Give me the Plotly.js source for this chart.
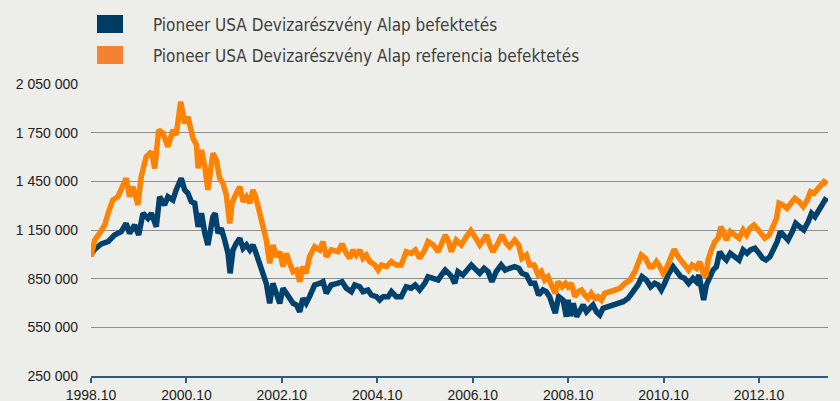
<!DOCTYPE html>
<html>
<head>
<meta charset="utf-8">
<script src="https://cdn.plot.ly/plotly-3.0.1.min.js"></script>
<style>
html,body{margin:0;padding:0;background:#EDEDE9;}
#chart{width:840px;height:401px;}
</style>
</head>
<body>
<div id="chart"></div>
<script>
var seriesNames = ["Pioneer USA Devizarészvény Alap befektetés", "Pioneer USA Devizarészvény Alap referencia befektetés"];

var blueDates = ["1998-10-01","1998-10-29","1998-12-19","1999-02-09","1999-03-30","1999-05-20","1999-06-27","1999-07-23","1999-08-31","1999-10-01","1999-11-03","1999-12-11","2000-01-06","2000-02-13","2000-03-09","2000-04-16","2000-05-12","2000-06-19","2000-07-14","2000-08-22","2000-09-17","2000-10-12","2000-11-07","2000-12-03","2000-12-29","2001-01-24","2001-02-18","2001-03-14","2001-04-21","2001-05-09","2001-05-30","2001-06-24","2001-07-20","2001-08-15","2001-08-31","2001-09-22","2001-10-17","2001-11-13","2001-12-08","2002-01-03","2002-01-29","2002-02-22","2002-03-18","2002-04-14","2002-05-09","2002-06-04","2002-06-30","2002-07-25","2002-08-20","2002-09-15","2002-10-10","2002-11-05","2002-11-30","2002-12-26","2003-01-21","2003-02-15","2003-03-11","2003-04-05","2003-05-01","2003-06-09","2003-07-17","2003-08-12","2003-09-06","2003-10-14","2003-11-30","2004-01-05","2004-02-07","2004-03-16","2004-04-11","2004-05-19","2004-06-13","2004-07-21","2004-08-16","2004-09-23","2004-10-19","2004-11-14","2004-12-22","2005-01-17","2005-02-23","2005-04-02","2005-05-10","2005-06-17","2005-07-18","2005-08-21","2005-09-29","2005-10-24","2005-12-02","2006-01-10","2006-02-04","2006-03-05","2006-03-31","2006-04-25","2006-05-16","2006-06-10","2006-07-18","2006-08-26","2006-09-21","2006-10-29","2006-11-24","2006-12-27","2007-01-27","2007-02-25","2007-03-30","2007-05-07","2007-06-07","2007-07-10","2007-08-18","2007-09-18","2007-10-13","2007-11-16","2007-12-19","2008-01-19","2008-02-18","2008-03-22","2008-04-16","2008-05-12","2008-06-07","2008-06-24","2008-07-20","2008-08-23","2008-09-17","2008-10-01","2008-10-16","2008-11-09","2008-12-04","2008-12-30","2009-01-24","2009-02-18","2009-03-15","2009-04-09","2009-05-05","2009-05-31","2009-06-25","2009-08-03","2009-09-10","2009-10-18","2009-11-26","2010-01-03","2010-02-11","2010-03-19","2010-04-19","2010-05-22","2010-06-24","2010-07-25","2010-08-20","2010-09-14","2010-10-10","2010-11-05","2010-12-13","2011-01-08","2011-02-10","2011-03-11","2011-04-11","2011-05-14","2011-06-09","2011-06-29","2011-07-16","2011-08-04","2011-08-25","2011-09-20","2011-10-15","2011-11-10","2011-12-05","2011-12-31","2012-01-25","2012-02-24","2012-03-30","2012-05-01","2012-06-01","2012-07-01","2012-07-27","2012-08-31","2012-10-02","2012-10-28","2012-11-23","2012-12-23","2013-01-24","2013-02-17","2013-03-13","2013-04-08","2013-05-11","2013-06-13","2013-07-09","2013-08-09","2013-09-09","2013-10-12","2013-11-07","2013-12-03","2013-12-28","2014-01-23","2014-02-18","2014-03-08"];
var blueValues = [1000000,1031000,1064000,1078000,1119000,1140000,1191000,1130000,1181000,1119000,1253000,1222000,1253000,1170000,1355000,1304000,1355000,1335000,1397000,1469000,1397000,1376000,1324000,1315000,1170000,1253000,1130000,1058000,1232000,1253000,1130000,1160000,1088000,1006000,883000,1027000,1068000,1099000,1037000,1058000,1027000,1058000,1006000,945000,883000,821000,698000,821000,760000,698000,791000,760000,739000,698000,688000,646000,729000,698000,739000,811000,821000,831000,760000,811000,821000,831000,791000,770000,811000,800000,770000,780000,749000,739000,718000,739000,739000,770000,739000,739000,800000,791000,811000,780000,821000,862000,852000,842000,873000,903000,883000,860000,821000,893000,873000,914000,934000,903000,883000,914000,893000,831000,893000,934000,903000,914000,924000,914000,883000,873000,821000,821000,749000,780000,770000,739000,667000,637000,739000,718000,616000,720000,620000,698000,616000,657000,688000,646000,667000,688000,646000,626000,667000,677000,688000,698000,708000,729000,770000,811000,862000,842000,800000,821000,811000,780000,821000,873000,924000,893000,862000,852000,821000,852000,831000,873000,770000,718000,811000,862000,903000,924000,1016000,985000,965000,1006000,985000,965000,1027000,1006000,1027000,1037000,1006000,976000,965000,985000,1037000,1078000,1140000,1119000,1088000,1140000,1191000,1170000,1150000,1201000,1253000,1232000,1263000,1304000,1335000,1324000];

var orangeDates = ["1998-10-01","1998-10-29","1998-12-06","1999-01-14","1999-02-09","1999-03-17","1999-04-25","1999-05-20","1999-06-27","1999-07-23","1999-08-18","1999-09-25","1999-10-20","1999-11-28","2000-01-06","2000-02-01","2000-03-02","2000-04-04","2000-05-12","2000-06-19","2000-07-14","2000-08-18","2000-09-17","2000-10-12","2000-11-20","2000-12-16","2000-12-29","2001-01-24","2001-02-18","2001-03-14","2001-04-21","2001-05-17","2001-06-12","2001-07-07","2001-08-02","2001-08-28","2001-09-15","2001-10-17","2001-11-13","2001-12-08","2002-01-03","2002-01-29","2002-02-22","2002-03-18","2002-04-14","2002-05-09","2002-06-04","2002-06-30","2002-07-25","2002-08-20","2002-09-15","2002-10-10","2002-11-05","2002-11-30","2002-12-26","2003-01-21","2003-02-15","2003-03-11","2003-04-05","2003-05-01","2003-06-09","2003-07-17","2003-08-12","2003-09-06","2003-10-14","2003-12-05","2004-01-05","2004-02-07","2004-03-03","2004-03-28","2004-04-23","2004-05-19","2004-06-13","2004-07-08","2004-08-04","2004-09-12","2004-10-07","2004-11-02","2004-12-10","2005-01-17","2005-02-23","2005-04-02","2005-05-10","2005-06-17","2005-07-18","2005-08-21","2005-09-29","2005-10-24","2005-12-02","2006-01-10","2006-02-04","2006-03-05","2006-03-31","2006-04-20","2006-05-28","2006-07-06","2006-08-14","2006-09-17","2006-10-17","2006-11-24","2006-12-20","2007-01-15","2007-02-09","2007-03-05","2007-04-12","2007-05-13","2007-06-15","2007-07-10","2007-08-18","2007-09-18","2007-10-13","2007-11-16","2007-12-11","2008-01-14","2008-02-13","2008-03-09","2008-04-04","2008-04-30","2008-05-25","2008-06-24","2008-07-15","2008-08-15","2008-09-10","2008-10-01","2008-10-26","2008-11-21","2008-12-16","2009-01-11","2009-02-06","2009-03-02","2009-03-27","2009-04-22","2009-05-17","2009-06-12","2009-07-08","2009-08-16","2009-09-23","2009-11-01","2009-12-09","2010-01-17","2010-02-23","2010-03-25","2010-04-14","2010-05-15","2010-06-17","2010-07-12","2010-08-07","2010-09-02","2010-09-27","2010-10-23","2010-11-18","2010-12-21","2011-01-21","2011-02-15","2011-03-11","2011-04-11","2011-05-07","2011-06-09","2011-07-05","2011-07-30","2011-08-20","2011-09-07","2011-10-02","2011-10-28","2011-11-23","2011-12-13","2012-01-06","2012-01-25","2012-02-24","2012-03-30","2012-05-01","2012-06-01","2012-06-27","2012-07-22","2012-08-23","2012-09-25","2012-10-20","2012-11-15","2012-12-18","2013-01-18","2013-02-12","2013-03-03","2013-04-03","2013-05-03","2013-06-06","2013-07-02","2013-08-04","2013-09-04","2013-10-05","2013-10-30","2013-11-25","2013-12-20","2014-01-15","2014-02-10","2014-03-06"];
var orangeValues = [985000,1088000,1130000,1181000,1253000,1335000,1355000,1397000,1469000,1355000,1417000,1304000,1479000,1602000,1633000,1530000,1766000,1746000,1663000,1766000,1736000,1941000,1808000,1848000,1715000,1674000,1530000,1643000,1540000,1397000,1623000,1582000,1469000,1438000,1366000,1191000,1315000,1376000,1417000,1324000,1355000,1315000,1397000,1345000,1263000,1170000,1088000,945000,1058000,985000,1016000,924000,1006000,945000,893000,903000,831000,924000,883000,985000,1047000,1027000,1078000,985000,1027000,1016000,1064000,1006000,976000,1027000,996000,1027000,976000,996000,955000,934000,903000,934000,924000,955000,934000,934000,1016000,1006000,1027000,976000,1027000,1078000,1058000,1016000,1068000,1119000,1076000,1016000,1088000,1058000,1109000,1146000,1109000,1058000,1088000,1119000,1058000,1016000,1068000,1119000,1068000,1047000,1088000,1058000,976000,996000,934000,934000,873000,893000,842000,862000,811000,760000,831000,800000,821000,800000,821000,739000,770000,780000,749000,729000,760000,729000,739000,718000,760000,770000,780000,791000,821000,842000,893000,945000,996000,976000,924000,924000,955000,924000,883000,914000,976000,1031000,985000,955000,934000,903000,934000,914000,955000,883000,862000,965000,1027000,1078000,1099000,1170000,1130000,1088000,1140000,1119000,1099000,1150000,1119000,1160000,1181000,1150000,1119000,1099000,1119000,1170000,1222000,1315000,1304000,1284000,1315000,1345000,1324000,1294000,1335000,1386000,1376000,1397000,1427000,1448000,1434000];

var yTicks = [250000, 550000, 850000, 1150000, 1450000, 1750000, 2050000];

var blueColor = "#00416E";
var orangeColor = "#FF8200";

var traces = [
  {x: blueDates, y: blueValues, type: "scatter", mode: "lines", name: seriesNames[0],
   line: {color: blueColor, width: 5.5}, showlegend: false},
  {x: orangeDates, y: orangeValues, type: "scatter", mode: "lines", name: seriesNames[1],
   line: {color: orangeColor, width: 5.5}, showlegend: false}
];

var plotH = 292;
function py(Y){ return (376 - Y) / plotH; }
function px(X){ return (X - 91) / 737; }

var legendFont = {family: "DejaVu Sans Condensed, Liberation Sans, sans-serif", size: 17, color: "#404040"};

var layout = {
  width: 840, height: 401,
  margin: {l: 91, r: 12, t: 84, b: 25},
  paper_bgcolor: "#EDEDE9",
  plot_bgcolor: "#EDEDE9",
  separators: ", ",
  showlegend: false,
  xaxis: {
    type: "date",
    range: ["1998-10-01", "2014-03-13"],
    tick0: "1998-10-01",
    dtick: "M24",
    tickformat: "%Y.%m",
    showgrid: false,
    zeroline: false,
    showline: true,
    linecolor: "#2D5C88",
    linewidth: 2,
    ticks: "outside",
    ticklen: 5,
    tickwidth: 2,
    tickcolor: "#2D5C88",
    tickfont: {family: "Liberation Sans, Arial, sans-serif", size: 14, color: "#222222"}
  },
  yaxis: {
    range: [250000, 2050000],
    tickvals: yTicks,
    tickformat: ",d",
    showgrid: true,
    gridcolor: "#8C8C8C",
    gridwidth: 1,
    zeroline: false,
    showline: false,
    ticks: "",
    ticklabelstandoff: 12,
    tickfont: {family: "Liberation Sans, Arial, sans-serif", size: 14, color: "#222222"}
  },
  shapes: [
    {type: "rect", xref: "paper", yref: "paper", x0: px(97), x1: px(123), y0: py(33), y1: py(15),
     fillcolor: "#003B66", line: {width: 0}},
    {type: "rect", xref: "paper", yref: "paper", x0: px(97), x1: px(123), y0: py(64), y1: py(46),
     fillcolor: "#F58233", line: {width: 0}}
  ],
  annotations: [
    {xref: "paper", yref: "paper", x: px(151), y: py(25), xanchor: "left", yanchor: "middle",
     text: seriesNames[0], showarrow: false, font: legendFont},
    {xref: "paper", yref: "paper", x: px(151), y: py(56), xanchor: "left", yanchor: "middle",
     text: seriesNames[1], showarrow: false, font: legendFont}
  ]
};

Plotly.newPlot("chart", traces, layout, {staticPlot: true, displayModeBar: false});
</script>
</body>
</html>
